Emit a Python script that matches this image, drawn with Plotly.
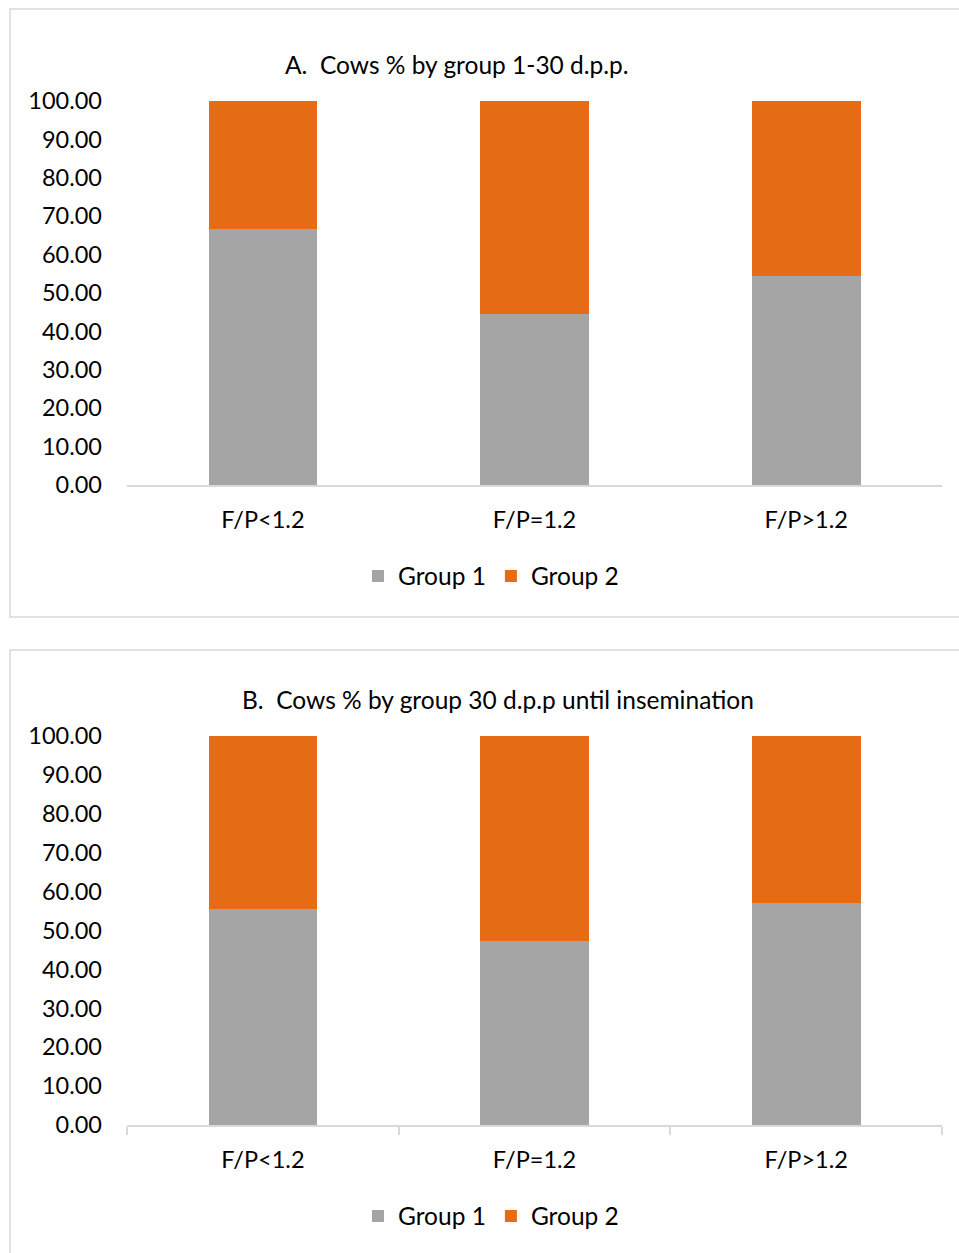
import plotly.graph_objects as go

W, H = 959, 1253

categories = ["F/P<1.2", "F/P=1.2", "F/P>1.2"]
a_group1 = [66.67, 44.44, 54.55]
a_group2 = [33.33, 55.56, 45.45]
b_group1 = [55.56, 47.37, 57.14]
b_group2 = [44.44, 52.63, 42.86]
y_ticks = [0, 10, 20, 30, 40, 50, 60, 70, 80, 90, 100]
title_a = "A.  Cows % by group 1-30 d.p.p."
title_b = "B.  Cows % by group 30 d.p.p until insemination"

GRAY = "#A5A5A5"
ORANGE = "#E56B15"
LINE = "#D9D9D9"
FONT = "Lato, 'Open Sans', sans-serif"
FS = 23.5

def px(x):
    return x / W

def py(y):
    return 1 - y / H

fig = go.Figure()
fig.add_trace(go.Bar(x=categories, y=a_group1, name="Group 1", marker_color=GRAY,
                     xaxis="x", yaxis="y", legend="legend"))
fig.add_trace(go.Bar(x=categories, y=a_group2, name="Group 2", marker_color=ORANGE,
                     xaxis="x", yaxis="y", legend="legend"))
fig.add_trace(go.Bar(x=categories, y=b_group1, name="Group 1", marker_color=GRAY,
                     xaxis="x2", yaxis="y2", legend="legend2"))
fig.add_trace(go.Bar(x=categories, y=b_group2, name="Group 2", marker_color=ORANGE,
                     xaxis="x2", yaxis="y2", legend="legend2"))
fig.update_traces(marker_line_width=0)

yaxis_common = dict(range=[0, 100], tickvals=y_ticks, tickformat=".2f", showgrid=False,
                    showline=False, zeroline=False, ticks="", ticklabelstandoff=24,
                    automargin=False,
                    tickfont=dict(size=FS, color="#000000", family=FONT), fixedrange=True)
xaxis_common = dict(showgrid=False, showline=True, linecolor=LINE, linewidth=1.5,
                    zeroline=False, ticklabelstandoff=13, automargin=False,
                    tickfont=dict(size=FS, color="#000000", family=FONT))

leg_common = dict(orientation="h", xanchor="center", yanchor="middle", traceorder="normal",
                  font=dict(size=24.5, family=FONT), itemwidth=30, bgcolor="rgba(0,0,0,0)")

fig.update_layout(
    template="none",
    width=W, height=H, autosize=False,
    margin=dict(l=0, r=0, t=0, b=0, pad=0),
    paper_bgcolor="white", plot_bgcolor="white",
    barmode="stack", bargap=0.6,
    font=dict(family=FONT, size=FS, color="#000000"),
    xaxis=dict(domain=[px(127), px(942)], anchor="y", ticks="", **xaxis_common),
    yaxis=dict(domain=[py(485), py(101)], anchor="x", **yaxis_common),
    xaxis2=dict(domain=[px(127), px(942)], anchor="y2", ticks="outside", tickson="boundaries",
                ticklen=8, tickcolor=LINE, tickwidth=1.5, **xaxis_common),
    yaxis2=dict(domain=[py(1125), py(736)], anchor="x2", **yaxis_common),
    legend=dict(x=px(491), y=py(576), **leg_common),
    legend2=dict(x=px(491), y=py(1216), **leg_common),
    showlegend=True,
    annotations=[
        dict(text=title_a, x=px(457), y=py(64), xref="paper", yref="paper", showarrow=False,
             xanchor="center", yanchor="middle", font=dict(size=24.5, family=FONT)),
        dict(text=title_b, x=px(498), y=py(699), xref="paper", yref="paper", showarrow=False,
             xanchor="center", yanchor="middle", font=dict(size=24.5, family=FONT)),
    ],
    shapes=[
        dict(type="rect", xref="paper", yref="paper", x0=px(10), x1=px(965), y0=py(617), y1=py(9),
             line=dict(color=LINE, width=1.5), fillcolor="rgba(0,0,0,0)", layer="below"),
        dict(type="rect", xref="paper", yref="paper", x0=px(10), x1=px(965), y0=py(1260), y1=py(650),
             line=dict(color=LINE, width=1.5), fillcolor="rgba(0,0,0,0)", layer="below"),
    ],
)

post = ("document.documentElement.style.margin='0';document.body.style.margin='0';"
        "document.body.style.padding='0';document.body.style.overflow='hidden';"
        "var gd=document.getElementById('{plot_id}');gd.style.position='fixed';"
        "gd.style.top='0';gd.style.left='0';")

fig.write_html("out.html", post_script=post, config={"displayModeBar": False, "responsive": False})
